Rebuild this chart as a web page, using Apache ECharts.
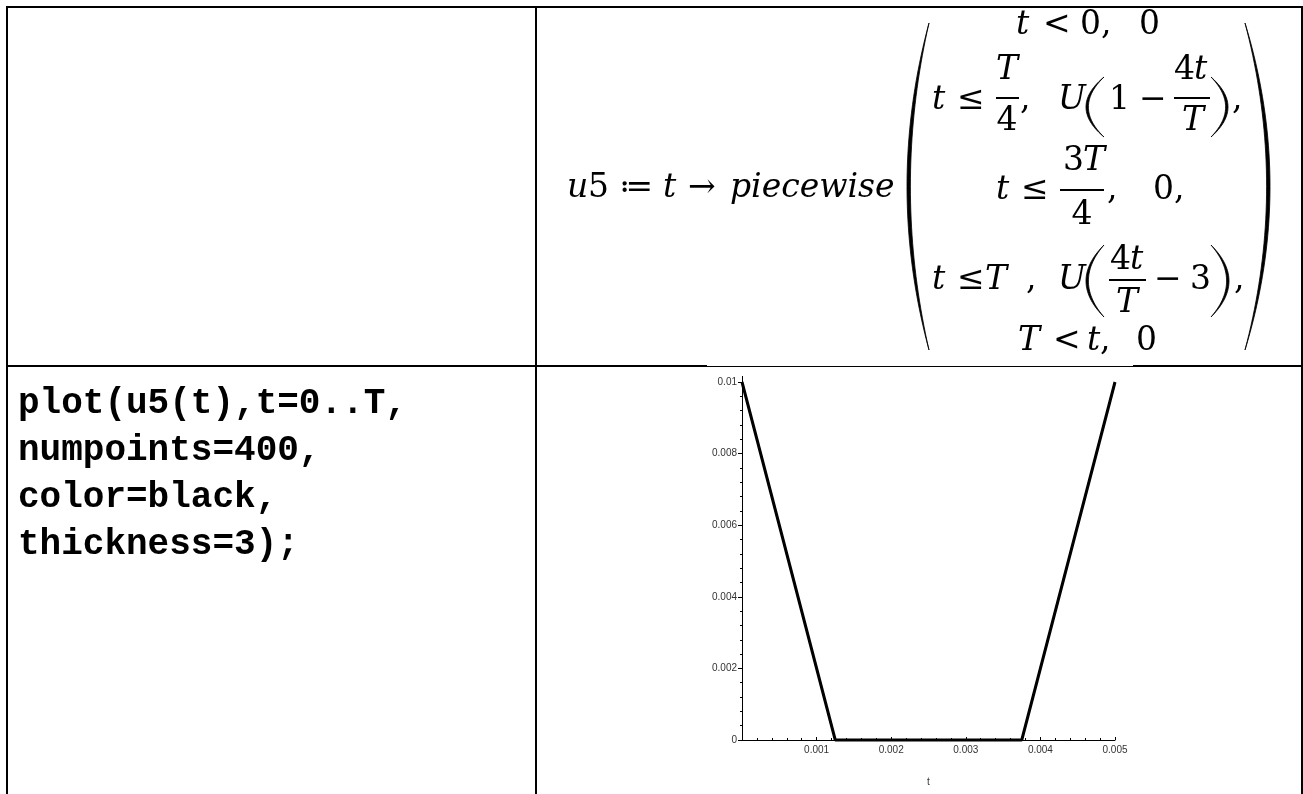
<!DOCTYPE html>
<html>
<head>
<meta charset="utf-8">
<script src="https://cdn.jsdelivr.net/npm/echarts@6/dist/echarts.min.js"></script>
<style>
  html, body { margin: 0; padding: 0; background: #fff; }
  #chart { width: 1303px; height: 794px; }
</style>
</head>
<body>
<div id="chart"></div>
<script>
// Breakpoints of the piecewise signal u5(t) on 0..T (T = 0.005, U = 0.01)
const tValues = [0, 0.00125, 0.00375, 0.005];
const u5Values = [0.01, 0, 0, 0.01];

// Axis tick labels
const xTickLabels = ['', '0.001', '0.002', '0.003', '0.004', '0.005'];
const yTickLabels = ['0', '0.002', '0.004', '0.006', '0.008', '0.01'];

// Maple command shown in the left cell
const codeLines = ['plot(u5(t),t=0..T,', 'numpoints=400,', 'color=black,', 'thickness=3);'];

const chart = echarts.init(document.getElementById('chart'), null, { renderer: 'canvas' });

// ---- formula typesetting helpers ----
const FS = 33;
const SERIF = '"DejaVu Serif", "DejaVu Sans", serif';
function txt(x, base, s, italic, align) {
  return {
    type: 'text', x: x, y: base - 12, z: 100,
    style: {
      text: s, fill: '#000',
      fontSize: FS, fontFamily: SERIF, fontStyle: italic ? 'italic' : 'normal',
      align: align || 'left', verticalAlign: 'middle',
      textAlign: align || 'left', textVerticalAlign: 'middle'
    }
  };
}
function bar(x1, x2, y) {
  return { type: 'line', z: 100, shape: { x1: x1, y1: y, x2: x2, y2: y }, style: { stroke: '#000', lineWidth: 2 } };
}
// crescent-shaped parenthesis: ends at xe, outer bulge reaching xm, thickness w at the middle
function paren(xe, xm, y1, y2, w) {
  const dir = xm < xe ? 1 : -1;
  const co = 2 * xm - xe;
  const ci = 2 * (xm + dir * w) - xe;
  const n = 40, pts = [];
  const quad = (c, s) => {
    const y = y1 + (y2 - y1) * s;
    const x = (1 - s) * (1 - s) * xe + 2 * s * (1 - s) * c + s * s * xe;
    return [x, y];
  };
  for (let k = 0; k <= n; k++) pts.push(quad(co, k / n));
  for (let k = n; k >= 0; k--) pts.push(quad(ci, k / n));
  return {
    type: 'polygon', z: 100,
    shape: { points: pts },
    style: { fill: '#000', stroke: '#000', lineWidth: 0.8 }
  };
}
function rule(x1, y1, x2, y2, w) {
  return { type: 'line', z: 90, shape: { x1: x1, y1: y1, x2: x2, y2: y2 }, style: { stroke: '#000', lineWidth: w } };
}

const graphics = [
  // table rules
  rule(6, 7, 1303, 7, 2),
  rule(7, 6, 7, 794, 2),
  rule(536, 6, 536, 794, 2),
  rule(1302, 6, 1302, 794, 2),
  rule(6, 366, 707, 366, 2),
  rule(707, 366.5, 1133, 366.5, 1),
  rule(1133, 366, 1303, 366, 2),

  // u5 := t -> piecewise
  txt(567, 200, 'u', true), txt(588, 200, '5', false),
  txt(619, 200, '\u2254', false),
  txt(663, 200, 't', true),
  txt(688, 200, '\u2192', false),
  txt(730, 200, 'piecewise', true),

  paren(929, 907, 23, 350, 3.4),
  paren(1245, 1270, 23, 350, 3.4),

  // row 1: t < 0, 0
  txt(1016, 37, 't', true), txt(1043, 37, '<', false), txt(1080, 37, '0,', false), txt(1139, 37, '0', false),

  // row 2: t <= T/4, U(1 - 4t/T),
  txt(932, 112, 't', true), txt(957, 112, '\u2264', false),
  txt(1007, 82, 'T', true, 'center'), bar(996, 1019, 98), txt(1007, 133, '4', false, 'center'),
  txt(1020, 112, ',', false),
  txt(1058, 112, 'U', true),
  paren(1104, 1086, 77, 137, 2.4),
  txt(1109, 112, '1', false), txt(1139, 112, '\u2212', false),
  txt(1174, 82, '4', false), txt(1194, 82, 't', true), bar(1174, 1210, 98), txt(1193, 133, 'T', true, 'center'),
  paren(1211, 1228, 77, 137, 2.4),
  txt(1232, 112, ',', false),

  // row 3: t <= 3T/4, 0,
  txt(996, 202, 't', true), txt(1021, 202, '\u2264', false),
  txt(1063, 173, '3', false), txt(1083, 173, 'T', true), bar(1060, 1104, 190), txt(1082, 227, '4', false, 'center'),
  txt(1107, 202, ',', false), txt(1153, 202, '0,', false),

  // row 4: t <= T , U(4t/T - 3),
  txt(932, 292, 't', true), txt(957, 292, '\u2264', false), txt(985, 292, 'T', true),
  txt(1026, 292, ',', false),
  txt(1058, 292, 'U', true),
  paren(1104, 1086, 245, 317, 2.4),
  txt(1110, 272, '4', false), txt(1130, 272, 't', true), bar(1109, 1146, 280), txt(1127, 315, 'T', true, 'center'),
  txt(1154, 292, '\u2212', false), txt(1190, 292, '3', false),
  paren(1211, 1229, 245, 317, 2.4),
  txt(1234, 292, ',', false),

  // row 5: T < t, 0
  txt(1018, 353, 'T', true), txt(1053, 353, '<', false), txt(1087, 353, 't', true), txt(1100, 353, ',', false),
  txt(1136, 353, '0', false),

  // short stub of the vertical axis above the top tick
  { type: 'line', z: 50, shape: { x1: 742.5, y1: 376, x2: 742.5, y2: 382 }, style: { stroke: '#000', lineWidth: 1 } }
];

// Maple command lines
codeLines.forEach((line, i) => {
  graphics.push({
    type: 'text', x: 18, y: 404 + i * 47, z: 100,
    style: {
      text: line, fill: '#000',
      fontSize: 36, fontFamily: '"Liberation Mono", "DejaVu Sans Mono", monospace', fontWeight: 'bold',
      align: 'left', verticalAlign: 'middle', textAlign: 'left', textVerticalAlign: 'middle'
    }
  });
});

const labelStyle = { fontSize: 10, fontFamily: '"Liberation Sans", Arial, sans-serif', color: '#333' };

const option = {
  animation: false,
  backgroundColor: '#fff',
  grid: { left: 742, top: 382, width: 373, height: 358, containLabel: false },
  xAxis: {
    type: 'value', min: 0, max: 0.005, interval: 0.001,
    name: 't', nameLocation: 'middle', nameGap: 37,
    nameTextStyle: labelStyle,
    axisLine: { show: true, onZero: true, lineStyle: { color: '#000', width: 1 } },
    axisTick: { show: true, inside: true, length: 3, lineStyle: { color: '#000', width: 1 } },
    minorTick: { show: true, splitNumber: 5, length: 2, lineStyle: { color: '#000', width: 1 } },
    axisLabel: Object.assign({ margin: 5, formatter: v => xTickLabels[Math.round(v / 0.001)] }, labelStyle),
    splitLine: { show: false }
  },
  yAxis: {
    type: 'value', min: 0, max: 0.01, interval: 0.002,
    axisLine: { show: true, lineStyle: { color: '#000', width: 1 } },
    axisTick: { show: true, inside: false, length: 4, lineStyle: { color: '#000', width: 1 } },
    minorTick: { show: true, splitNumber: 5, length: 2, lineStyle: { color: '#000', width: 1 } },
    axisLabel: Object.assign({ margin: 5, formatter: v => yTickLabels[Math.round(v / 0.002)] }, labelStyle),
    splitLine: { show: false }
  },
  series: [{
    type: 'line',
    data: tValues.map((t, i) => [t, u5Values[i]]),
    showSymbol: false,
    clip: false,
    lineStyle: { color: '#000', width: 3 }
  }],
  graphic: graphics
};

chart.setOption(option);
</script>
</body>
</html>
